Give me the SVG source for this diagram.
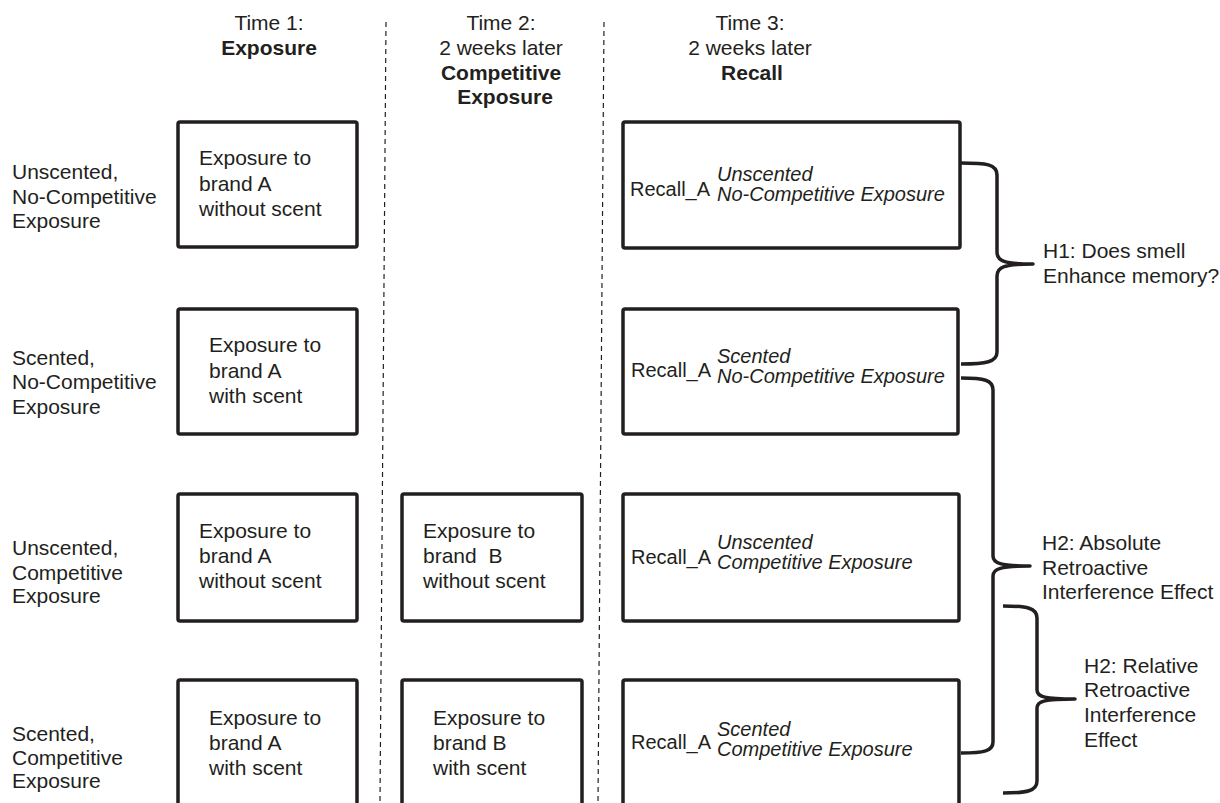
<svg xmlns="http://www.w3.org/2000/svg" width="1220" height="803" viewBox="0 0 1220 803">
<style>
  text { font-family: "Liberation Sans", Arial, sans-serif; font-size: 21px; fill: #231f20; }
  .b { font-weight: bold; }
  .c { text-anchor: middle; }
  .r { font-size: 20px; }
  .i { font-size: 20px; font-style: italic; }
  .box { fill: #fff; stroke: #231f20; stroke-width: 3.5; }
  .dash { stroke: #231f20; stroke-width: 1.2; stroke-dasharray: 5 4; fill: none; }
  .brace { fill: none; stroke: #231f20; stroke-width: 3.5; stroke-linejoin: round; stroke-linecap: butt; }
</style>
<rect width="1220" height="803" fill="#fff"/>

<g id="dividers">
  <line class="dash" x1="386" y1="22" x2="380" y2="803"/>
  <line class="dash" x1="604" y1="22" x2="598" y2="803"/>
</g>

<g id="headers">
  <text class="c" x="269" y="30">Time 1:</text>
  <text class="c b" x="269" y="55">Exposure</text>
  <text class="c" x="501" y="30">Time 2:</text>
  <text class="c" x="501" y="55">2 weeks later</text>
  <text class="c b" x="501" y="80">Competitive</text>
  <text class="c b" x="505" y="104">Exposure</text>
  <text class="c" x="750" y="30">Time 3:</text>
  <text class="c" x="750" y="55">2 weeks later</text>
  <text class="c b" x="752" y="80">Recall</text>
</g>

<g id="row-labels">
  <text x="12" y="179">Unscented,</text>
  <text x="12" y="204">No-Competitive</text>
  <text x="12" y="228">Exposure</text>
  <text x="12" y="365">Scented,</text>
  <text x="12" y="389">No-Competitive</text>
  <text x="12" y="414">Exposure</text>
  <text x="12" y="555">Unscented,</text>
  <text x="12" y="580">Competitive</text>
  <text x="12" y="603">Exposure</text>
  <text x="12" y="741">Scented,</text>
  <text x="12" y="765">Competitive</text>
  <text x="12" y="788">Exposure</text>
</g>

<g id="t1-row1">
  <rect class="box" x="178" y="122" width="179" height="125" rx="2"/>
  <text x="199" y="165">Exposure to</text>
  <text x="199" y="191">brand A</text>
  <text x="199" y="216">without scent</text>
</g>
<g id="t1-row2">
  <rect class="box" x="178" y="309" width="179" height="125" rx="2"/>
  <text x="209" y="352">Exposure to</text>
  <text x="209" y="378">brand A</text>
  <text x="209" y="403">with scent</text>
</g>
<g id="t1-row3">
  <rect class="box" x="178" y="494" width="179" height="127" rx="2"/>
  <text x="199" y="538">Exposure to</text>
  <text x="199" y="563">brand A</text>
  <text x="199" y="588">without scent</text>
</g>
<g id="t1-row4">
  <rect class="box" x="178" y="680" width="179" height="127" rx="2"/>
  <text x="209" y="725">Exposure to</text>
  <text x="209" y="750">brand A</text>
  <text x="209" y="775">with scent</text>
</g>

<g id="t2-row3">
  <rect class="box" x="402" y="494" width="180" height="127" rx="2"/>
  <text x="423" y="538">Exposure to</text>
  <text x="423" y="563" xml:space="preserve">brand  B</text>
  <text x="423" y="588">without scent</text>
</g>
<g id="t2-row4">
  <rect class="box" x="402" y="680" width="180" height="127" rx="2"/>
  <text x="433" y="725">Exposure to</text>
  <text x="433" y="750">brand B</text>
  <text x="433" y="775">with scent</text>
</g>

<g id="t3-row1">
  <rect class="box" x="623" y="122" width="337" height="126" rx="2"/>
  <text class="r" x="630" y="196">Recall_A</text>
  <text class="i" x="717" y="181">Unscented<tspan x="717" dy="20">No-Competitive Exposure</tspan></text>
</g>
<g id="t3-row2">
  <rect class="box" x="623" y="309" width="335" height="125" rx="2"/>
  <text class="r" x="631" y="377">Recall_A</text>
  <text class="i" x="717" y="363">Scented<tspan x="717" dy="20">No-Competitive Exposure</tspan></text>
</g>
<g id="t3-row3">
  <rect class="box" x="623" y="494" width="336" height="127" rx="2"/>
  <text class="r" x="631" y="564">Recall_A</text>
  <text class="i" x="717" y="549">Unscented<tspan x="717" dy="20">Competitive Exposure</tspan></text>
</g>
<g id="t3-row4">
  <rect class="box" x="623" y="680" width="336" height="127" rx="2"/>
  <text class="r" x="631" y="749">Recall_A</text>
  <text class="i" x="717" y="736">Scented<tspan x="717" dy="20">Competitive Exposure</tspan></text>
</g>

<g id="connectors">
  <path class="brace" d="M961,163 C986,163 997,164 997,175 L997,252 C997,261 1004,264 1033,264 C1004,264 997,267 997,276 L997,352 C997,362 986,364 961,364"/>
  <path class="brace" d="M961,378 C984,378 993,380 993,390 L993,556 C993,563 1000,566 1030,566 C1000,566 993,569 993,576 L993,742 C993,751 984,753 961,753"/>
  <path class="brace" d="M1003,606 C1027,606 1037,608 1037,618 L1037,690 C1037,697 1045,699 1075,699 C1045,699 1037,701 1037,708 L1037,781 C1037,791 1027,793 1003,793"/>
</g>

<g id="h1">
  <text x="1043" y="258">H1: Does smell</text>
  <text x="1043" y="283">Enhance memory?</text>
</g>
<g id="h2-absolute">
  <text x="1042" y="550">H2: Absolute</text>
  <text x="1042" y="575">Retroactive</text>
  <text x="1042" y="599">Interference Effect</text>
</g>
<g id="h2-relative">
  <text x="1084" y="673">H2: Relative</text>
  <text x="1084" y="697">Retroactive</text>
  <text x="1084" y="722">Interference</text>
  <text x="1084" y="747">Effect</text>
</g>
</svg>
